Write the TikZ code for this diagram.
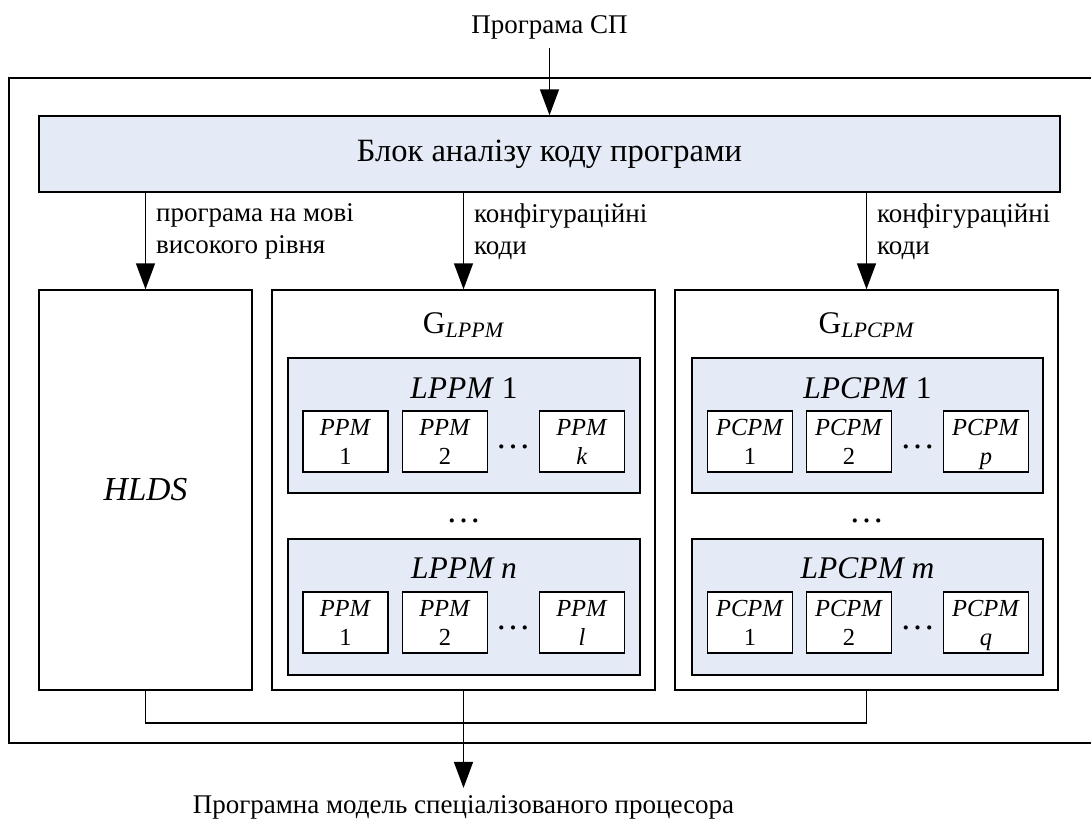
\documentclass[tikz,border=0pt]{standalone}
\usepackage{fontspec}
\setmainfont{Liberation Serif}
\usetikzlibrary{positioning,arrows.meta}
\definecolor{blockblue}{RGB}{228,235,246}

\begin{document}
\begin{tikzpicture}[
x=1pt, y=-1pt,
plain_square/.style={rectangle, draw=black, fill=white, line width=1.4pt, inner sep=0pt},
blue_square/.style={rectangle, draw=black, fill=blockblue, line width=1.4pt, inner sep=0pt},
small_square/.style={plain_square, minimum width=85pt, minimum height=61pt, align=center, font=\fontsize{24.5}{29}\selectfont},
out_arrow/.style={-{Triangle[length=26pt, width=19pt]}, line width=1.4pt},
bus_line/.style={line width=1.4pt},
big_text/.style={font=\fontsize{32.5}{38}\selectfont},
title_text/.style={font=\fontsize{31.5}{36}\selectfont, anchor=base, inner sep=0pt},
plain_text/.style={font=\fontsize{27}{32}\selectfont},
side_text/.style={plain_text, anchor=west, align=left, inner xsep=10pt, inner ysep=0pt},
dots_text/.style={font=\fontsize{35}{35}\selectfont, inner sep=0pt}
]
\useasboundingbox (0,0) rectangle (1091,819);

% outer frame (its right side is cut by the page)
\draw[bus_line] (9,78) rectangle (1096,743);

\node[plain_text, anchor=base, inner sep=9pt](input) at (549.5,33) {Програма СП};
\node[blue_square, big_text, minimum width=1021pt, minimum height=76pt](analysis) at (549.5,154) {Блок аналізу коду програми};

\node[plain_square, font=\fontsize{33.5}{38}\selectfont, minimum width=213pt, minimum height=400pt](hlds) at (145.5,490) {\textit{HLDS}};
\node[plain_square, minimum width=383pt, minimum height=400pt](glppm) at (463.5,490) {};
\node[plain_square, minimum width=383pt, minimum height=400pt](glpcpm) at (866.5,490) {};

\node[title_text](glppm_title) at (463.5,333) {G\raisebox{-4pt}{\fontsize{22}{22}\selectfont\textit{LPPM}}};
\node[title_text](glpcpm_title) at (866.5,333) {G\raisebox{-4pt}{\fontsize{22}{22}\selectfont\textit{LPCPM}}};

% LPPM groups
\node[blue_square, minimum width=352pt, minimum height=135pt](lppm_1) at (464,425.5) {};
\node[title_text](lppm_1_title) at (464,398) {\textit{LPPM} 1};
\node[small_square](ppm_11) at (345.5,441.5) {\textit{PPM}\\1};
\node[small_square](ppm_12) at (445,441.5) {\textit{PPM}\\2};
\node[dots_text](ppm_1dots) at (513,447) {…};
\node[small_square](ppm_1k) at (582,441.5) {\textit{PPM}\\\textit{k}};

\node[dots_text](lppm_dots) at (463.5,521) {…};

\node[blue_square, minimum width=352pt, minimum height=136pt](lppm_n) at (464,607) {};
\node[title_text](lppm_n_title) at (464,578) {\textit{LPPM n}};
\node[small_square](ppm_n1) at (345.5,622.5) {\textit{PPM}\\1};
\node[small_square](ppm_n2) at (445,622.5) {\textit{PPM}\\2};
\node[dots_text](ppm_ndots) at (513,628) {…};
\node[small_square](ppm_nl) at (582,622.5) {\textit{PPM}\\\textit{l}};

% LPCPM groups
\node[blue_square, minimum width=351pt, minimum height=135pt](lpcpm_1) at (867.5,425.5) {};
\node[title_text](lpcpm_1_title) at (867.5,398) {\textit{LPCPM} 1};
\node[small_square](pcpm_11) at (750,441.5) {\textit{PCPM}\\1};
\node[small_square](pcpm_12) at (849,441.5) {\textit{PCPM}\\2};
\node[dots_text](pcpm_1dots) at (917.5,447) {…};
\node[small_square](pcpm_1p) at (986,441.5) {\textit{PCPM}\\\smash{\textit{p}}};

\node[dots_text](lpcpm_dots) at (866.5,521) {…};

\node[blue_square, minimum width=351pt, minimum height=136pt](lpcpm_m) at (867.5,607) {};
\node[title_text](lpcpm_m_title) at (867.5,578) {\textit{LPCPM m}};
\node[small_square](pcpm_m1) at (750,622.5) {\textit{PCPM}\\1};
\node[small_square](pcpm_m2) at (849,622.5) {\textit{PCPM}\\2};
\node[dots_text](pcpm_mdots) at (917.5,628) {…};
\node[small_square](pcpm_mq) at (986,622.5) {\textit{PCPM}\\\smash{\textit{q}}};

\node[plain_text, anchor=base, inner sep=7pt](output) at (463.5,813) {Програмна модель спеціалізованого процесора};
\coordinate (bus) at (463.5,723);

\draw[out_arrow](input) to [] (analysis);
\draw[out_arrow](analysis.south -| hlds.north) to [] node[side_text, pos=0.4]{програма на мові\\високого рівня} (hlds.north);
\draw[out_arrow](analysis.south -| glppm.north) to [] node[side_text, pos=0.4]{конфігураційні\\коди} (glppm.north);
\draw[out_arrow](analysis.south -| glpcpm.north) to [] node[side_text, pos=0.4]{конфігураційні\\коди} (glpcpm.north);

\draw[bus_line](hlds.south) |- (bus) -| (glpcpm.south);
\draw[out_arrow](glppm) to [] (output);
\end{tikzpicture}
\end{document}
